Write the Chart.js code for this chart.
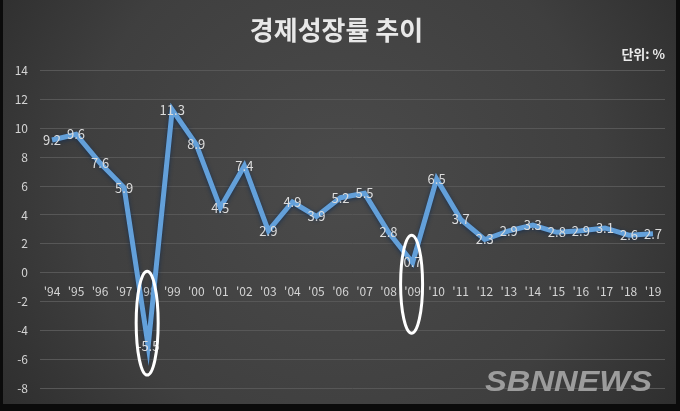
<!DOCTYPE html>
<html>
<head>
<meta charset="utf-8">
<script src="https://cdn.jsdelivr.net/npm/chart.js@4"></script>
<style>
  html, body { margin: 0; padding: 0; background: #000; }
  #wrap { width: 680px; height: 411px; }
</style>
</head>
<body>
<div id="wrap"><canvas id="growth-chart" width="680" height="411"></canvas></div>
<script>
// 데이터 ----------------------------------------
var years = ["'94", "'95", "'96", "'97", "'98", "'99", "'00", "'01", "'02", "'03", "'04", "'05", "'06",
             "'07", "'08", "'09", "'10", "'11", "'12", "'13", "'14", "'15", "'16", "'17", "'18", "'19"];
var growth = [9.2, 9.6, 7.6, 5.9, -5.1, 11.3, 8.9, 4.5, 7.4, 2.9, 4.9, 3.9, 5.2,
              5.5, 2.8, 0.7, 6.5, 3.7, 2.3, 2.9, 3.3, 2.8, 2.9, 3.1, 2.6, 2.7];
var growthLabels = ['9.2', '9.6', '7.6', '5.9', '-5.5', '11.3', '8.9', '4.5', '7.4', '2.9', '4.9', '3.9', '5.2',
                    '5.5', '2.8', '0.7', '6.5', '3.7', '2.3', '2.9', '3.3', '2.8', '2.9', '3.1', '2.6', '2.7'];
var yMin = -8;
var yMax = 14;
var yStep = 2;
// 강조 표시 (타원)
var circledYears = ["'98", "'09"];
var circleTop = [0.1, 2.6];
var circleBottom = [-7.1, -4.2];

var FONT = "'Noto Sans CJK KR', 'Noto Sans', sans-serif";

// 배경
var bgPlugin = {
  id: 'bg',
  beforeDraw: function(chart) {
    var c = chart.ctx, w = chart.width, h = chart.height;
    c.save();
    c.fillStyle = '#0b0b0b';
    c.fillRect(0, 0, w, h);
    var g = c.createRadialGradient(w * 0.5, h * 0.45, 20, w * 0.5, h * 0.45, w * 0.62);
    g.addColorStop(0, '#4a4a4a');
    g.addColorStop(0.6, '#3f3f3f');
    g.addColorStop(1, '#2c2c2c');
    c.fillStyle = g;
    c.fillRect(3, 0, w - 7, h - 7);
    c.restore();
  }
};

// 선 그림자
var glowPlugin = {
  id: 'glow',
  beforeDatasetDraw: function(chart) {
    chart.ctx.save();
    chart.ctx.shadowColor = 'rgba(20, 45, 80, 0.9)';
    chart.ctx.shadowBlur = 4;
    chart.ctx.shadowOffsetY = 1;
  },
  afterDatasetDraw: function(chart) {
    chart.ctx.restore();
  }
};

// 데이터 레이블
var labelPlugin = {
  id: 'labels',
  afterDatasetsDraw: function(chart) {
    var c = chart.ctx;
    var meta = chart.getDatasetMeta(0);
    c.save();
    c.font = '13px ' + FONT;
    c.fillStyle = '#dcdcdc';
    c.textAlign = 'center';
    c.textBaseline = 'middle';
    meta.data.forEach(function(pt, i) {
      c.fillText(growthLabels[i], pt.x, pt.y);
    });
    c.restore();
  }
};

// 타원 + 워터마크
var markPlugin = {
  id: 'marks',
  afterDraw: function(chart) {
    var c = chart.ctx;
    var xs = chart.scales.x, ys = chart.scales.y;
    c.save();
    c.strokeStyle = '#ffffff';
    c.lineWidth = 3;
    circledYears.forEach(function(yr, i) {
      var cx = xs.getPixelForValue(years.indexOf(yr)) - 1;
      var top = ys.getPixelForValue(circleTop[i]);
      var bot = ys.getPixelForValue(circleBottom[i]);
      c.beginPath();
      c.ellipse(cx, (top + bot) / 2, 11, (bot - top) / 2, 0, 0, Math.PI * 2);
      c.stroke();
    });
    // SBNNEWS
    c.font = 'italic bold 30px "Liberation Sans", sans-serif';
    var txt = 'SBNNEWS';
    var tw = c.measureText(txt).width;
    c.translate(485, 391);
    c.scale(167 / tw, 1);
    c.fillStyle = '#9c9c9c';
    c.fillText(txt, 0, 0);
    c.restore();
  }
};

var ctx = document.getElementById('growth-chart');
var chart = new Chart(ctx, {
  type: 'line',
  data: {
    labels: years,
    datasets: [{
      data: growth,
      borderColor: '#63a0da',
      borderWidth: 5,
      pointRadius: 0,
      tension: 0,
      fill: false
    }]
  },
  options: {
    responsive: false,
    animation: false,
    layout: { padding: { left: 8, right: 15, bottom: 23, top: 0 } },
    plugins: {
      legend: { display: false },
      tooltip: { enabled: false },
      title: {
        display: true,
        text: '경제성장률 추이',
        color: '#e8e8e8',
        font: { family: FONT, size: 26, weight: 'bold' },
        padding: { top: 15, bottom: 0 }
      },
      subtitle: {
        display: true,
        text: '단위: %',
        align: 'end',
        color: '#ececec',
        font: { family: FONT, size: 13, weight: 'bold' },
        padding: { top: 0, bottom: 9 }
      }
    },
    scales: {
      x: {
        position: { y: 0 },
        offset: true,
        grid: { display: false },
        border: { display: false },
        ticks: {
          color: '#d4d4d4',
          font: { family: FONT, size: 12 },
          padding: 4,
          autoSkip: false,
          maxRotation: 0
        }
      },
      y: {
        min: yMin,
        max: yMax,
        afterFit: function(scale) { scale.width = 32; },
        grid: { color: '#575757', lineWidth: 1, drawTicks: false },
        border: { display: false },
        ticks: {
          stepSize: yStep,
          color: '#d4d4d4',
          font: { family: FONT, size: 12 },
          padding: 12
        }
      }
    }
  },
  plugins: [bgPlugin, glowPlugin, labelPlugin, markPlugin]
});
</script>
</body>
</html>
